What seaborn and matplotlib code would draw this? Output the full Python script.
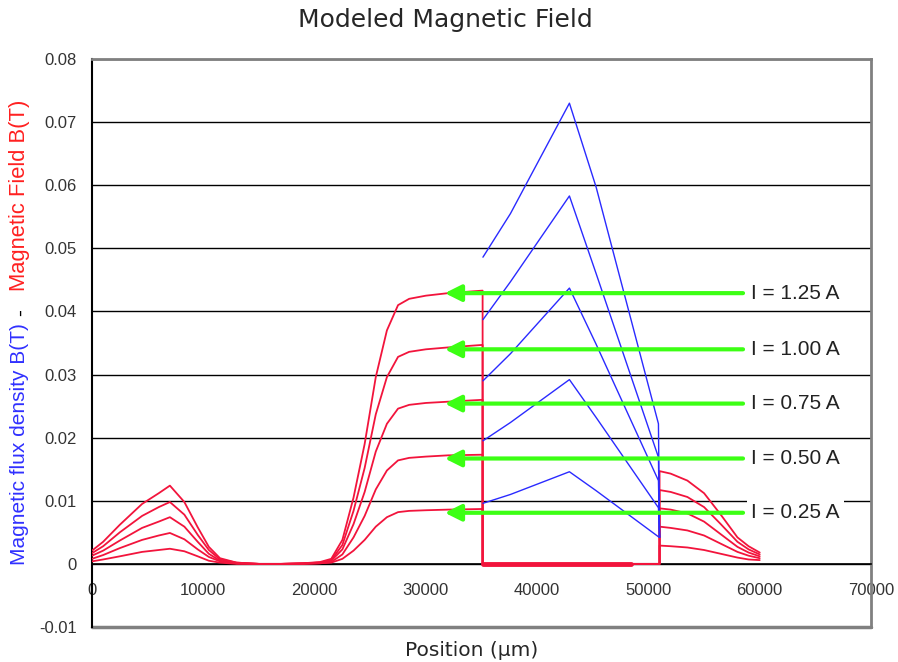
import pandas as pd
import seaborn as sns
import matplotlib.pyplot as plt

sns.set_style('white')
plt.rcParams['font.family'] = ['DejaVu Sans']

# positions (um) of the red "Magnetic Field" curves
field_x_left = [0, 1000, 2500, 4500, 6000, 7000, 8300, 9500, 10500, 11500, 13000, 15000, 17000,
                19000, 20500, 21500, 22500, 23500, 24500, 25500, 26500, 27500, 28500, 30000, 32000, 35100]
field_x_gap = [35100, 51000]
field_x_right = [51000, 52000, 53500, 55000, 56500, 58000, 59000, 60000]

field_125_left = [0.0021, 0.0035, 0.0062, 0.0095, 0.0112, 0.0124, 0.0098, 0.0058, 0.0027, 0.0009, 0.0002, 0.0000, 0.0000,
                  0.0001, 0.0003, 0.0008, 0.0038, 0.0105, 0.0190, 0.0296, 0.0370, 0.0410, 0.0420, 0.0425, 0.0429, 0.0433]
field_100_left = [0.0017, 0.0028, 0.0050, 0.0076, 0.0090, 0.0098, 0.0078, 0.0046, 0.0022, 0.0007, 0.0002, 0.0000, 0.0000,
                  0.0001, 0.0002, 0.0006, 0.0030, 0.0084, 0.0152, 0.0237, 0.0296, 0.0328, 0.0336, 0.0340, 0.0343, 0.0347]
field_075_left = [0.0013, 0.0021, 0.0037, 0.0057, 0.0067, 0.0074, 0.0059, 0.0035, 0.0016, 0.0005, 0.0001, 0.0000, 0.0000,
                  0.0001, 0.0002, 0.0005, 0.0023, 0.0063, 0.0114, 0.0178, 0.0222, 0.0246, 0.0252, 0.0255, 0.0257, 0.0260]
field_050_left = [0.0008, 0.0014, 0.0025, 0.0038, 0.0045, 0.0049, 0.0039, 0.0023, 0.0011, 0.0004, 0.0001, 0.0000, 0.0000,
                  0.0000, 0.0001, 0.0003, 0.0015, 0.0042, 0.0076, 0.0118, 0.0148, 0.0164, 0.0168, 0.0170, 0.0172, 0.0173]
field_025_left = [0.0004, 0.0007, 0.0012, 0.0019, 0.0022, 0.0024, 0.0020, 0.0012, 0.0005, 0.0002, 0.0000, 0.0000, 0.0000,
                  0.0000, 0.0001, 0.0002, 0.0008, 0.0021, 0.0038, 0.0059, 0.0074, 0.0082, 0.0084, 0.0085, 0.0086, 0.0087]
field_gap = [0.0, 0.0]

field_125_right = [0.0147, 0.0143, 0.0132, 0.0112, 0.0078, 0.0042, 0.0028, 0.0018]
field_100_right = [0.0117, 0.0114, 0.0106, 0.0090, 0.0063, 0.0035, 0.0023, 0.0015]
field_075_right = [0.0088, 0.0086, 0.0080, 0.0067, 0.0047, 0.0027, 0.0018, 0.0012]
field_050_right = [0.0059, 0.0057, 0.0053, 0.0045, 0.0032, 0.0019, 0.0013, 0.0009]
field_025_right = [0.0029, 0.0028, 0.0026, 0.0022, 0.0016, 0.0010, 0.0007, 0.0006]

base_x = [35100, 48400]
base_y = [0.0, 0.0]

# blue "flux density" curves
flux_x = [35130, 37600, 42900, 45300, 50900, 51000]
flux_125 = [0.0486, 0.0555, 0.0730, 0.0597, 0.0222, 0.0042]
flux_100 = [0.0387, 0.0447, 0.0583, 0.0460, 0.0169, 0.0042]
flux_075 = [0.0290, 0.0333, 0.0437, 0.0348, 0.0132, 0.0042]
flux_050 = [0.0195, 0.0224, 0.0292, 0.0232, 0.0089, 0.0042]
flux_025 = [0.0096, 0.0110, 0.0146, 0.0116, 0.0043, 0.0042]

current_labels = ['I = 1.25 A', 'I = 1.00 A', 'I = 0.75 A', 'I = 0.50 A', 'I = 0.25 A']
arrow_levels = [0.0429, 0.0340, 0.0254, 0.0167, 0.0081]

yticks = [-0.01, 0, 0.01, 0.02, 0.03, 0.04, 0.05, 0.06, 0.07, 0.08]
ytick_labels = ['-0.01', '0', '0.01', '0.02', '0.03', '0.04', '0.05', '0.06', '0.07', '0.08']
xticks = [0, 10000, 20000, 30000, 40000, 50000, 60000, 70000]

red = '#f2143c'
blue = '#2a2aff'
green = '#3cff14'

fig = plt.figure(figsize=(8.98, 6.62), dpi=100)
ax = fig.add_axes([92 / 898, 1 - 627 / 662, (871 - 92) / 898, (627 - 59) / 662])

field_left = [field_125_left, field_100_left, field_075_left, field_050_left, field_025_left]
field_right = [field_125_right, field_100_right, field_075_right, field_050_right, field_025_right]
for left, right in zip(field_left, field_right):
    df = pd.DataFrame({'pos': field_x_left + field_x_gap + field_x_right,
                       'B': left + field_gap + right})
    sns.lineplot(data=df, x='pos', y='B', sort=False, estimator=None, color=red, lw=1.3, ax=ax, zorder=3)

sns.lineplot(x=base_x, y=base_y, sort=False, estimator=None, color=red, lw=3.5, ax=ax, zorder=3)

for flux in [flux_125, flux_100, flux_075, flux_050, flux_025]:
    sns.lineplot(x=flux_x, y=flux, sort=False, estimator=None, color=blue, lw=1.0, ax=ax, zorder=4)

for lvl, lab in zip(arrow_levels, current_labels):
    ax.annotate('', xy=(31700, lvl), xytext=(58500, lvl),
                arrowprops=dict(arrowstyle='-|>,head_length=0.7,head_width=0.35', color=green,
                                lw=3, mutation_scale=14, shrinkA=0, shrinkB=0), zorder=5)
    ax.text(59250, lvl, lab, ha='left', va='center', fontsize=15, family='Liberation Sans', color='#222222',
            zorder=6, bbox=dict(boxstyle='square,pad=0.2', fc='white', ec='none'))

ax.set_xlim(0, 70000)
ax.set_ylim(-0.01, 0.08)
ax.set_yticks(yticks)
ax.set_yticklabels(ytick_labels)
ax.set_xticks(xticks)
ax.set_xticklabels([str(t) for t in xticks])
ax.set_xlabel('')
ax.set_ylabel('')

ax.yaxis.grid(True, color='black', lw=1.0)
ax.set_axisbelow(True)

ax.spines['bottom'].set_position(('data', 0))
ax.spines['bottom'].set_color('black')
ax.spines['bottom'].set_linewidth(1.2)
ax.spines['left'].set_color('black')
ax.spines['left'].set_linewidth(1.5)
for s in ['top', 'right']:
    ax.spines[s].set_color('#808080')
    ax.spines[s].set_linewidth(2)
ax.axhline(-0.01, color='#808080', lw=2.5, clip_on=False, zorder=2)

ax.tick_params(axis='both', direction='out', length=5, width=1.2, color='black',
               labelsize=12, labelcolor='#333333')
ax.tick_params(axis='x', pad=9)
ax.tick_params(axis='y', pad=6)
for t in ax.get_xticklabels() + ax.get_yticklabels():
    t.set_family('Liberation Sans')

fig.text(445 / 898, 1 - 20 / 662, 'Modeled Magnetic Field', ha='center', va='center', fontsize=18)
fig.text(472 / 898, 1 - 650 / 662, 'Position (\u03bcm)', ha='center', va='center', fontsize=14.5)

fig.text(20 / 898, 1 - 565 / 662, 'Magnetic flux density B(T)', rotation=90, ha='center', va='bottom',
         fontsize=15, family='Liberation Sans', color='#3030ff')
fig.text(20 / 898, 1 - 313 / 662, '-', rotation=90, ha='center', va='center',
         fontsize=15, family='Liberation Sans', color='black')
fig.text(20 / 898, 1 - 100 / 662, 'Magnetic Field B(T)', rotation=90, ha='center', va='top',
         fontsize=15.8, family='Liberation Sans', color='#ff2020')

fig.savefig('out.png', dpi=100)
